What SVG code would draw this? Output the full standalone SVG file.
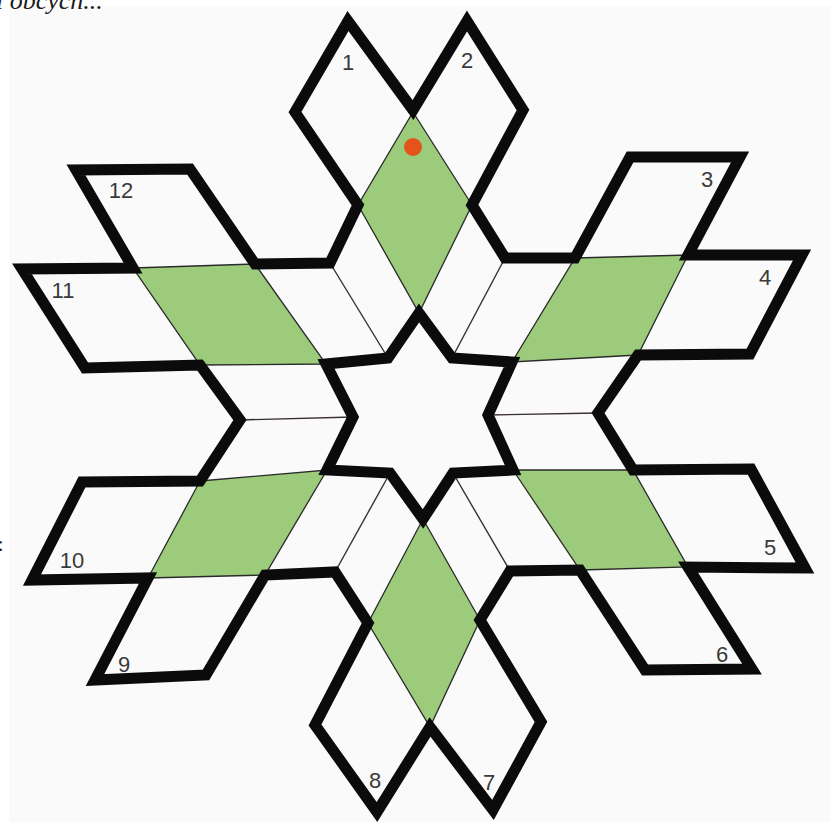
<svg xmlns="http://www.w3.org/2000/svg" width="830" height="822" viewBox="0 0 830 822">
<style>
.thick{fill:none;stroke:#0b0b0b;stroke-width:11;stroke-linejoin:miter;stroke-miterlimit:4}
.green{fill:#9bcb7b;stroke:#2a2a2a;stroke-width:1.3;stroke-linejoin:miter}
.fold{fill:none;stroke:#3a2f2f;stroke-width:1.4}
.lbl{font-family:"Liberation Sans",Arial,sans-serif;font-size:22px;fill:#3a3a3a;text-anchor:middle}
.cap{font-family:"Liberation Serif","Times New Roman",serif;font-style:italic;font-size:26px;fill:#1a1a1a}
</style>
<rect x="0" y="0" width="830" height="822" fill="#ffffff"/>
<rect x="9" y="6" width="821" height="816" fill="#fafafa"/>
<text class="cap" x="-4" y="9">i obcych...</text>
<text class="cap" x="-2.5" y="551" style="font-style:normal;font-size:22px">:</text>

<g id="greens">
<polygon id="g-top" class="green" points="413,112 472,205 419,313 358,205"/>
<polygon id="g-upper-right" class="green" points="575,258 688,255 638,355 512,362"/>
<polygon id="g-lower-right" class="green" points="513,470 633,470 688,567 580,570"/>
<polygon id="g-bottom" class="green" points="423,519 480,620 430,727 368,623"/>
<polygon id="g-lower-left" class="green" points="200,481 327,470 265,575 148,578"/>
<polygon id="g-upper-left" class="green" points="133,268 255,264 326,364 200,365"/>
</g>

<g id="connectors">
<line class="fold" x1="388" y1="358" x2="330" y2="263"/>
<line class="fold" x1="353" y1="417" x2="240" y2="420"/>
<line class="fold" x1="390" y1="473" x2="335" y2="572"/>
<line class="fold" x1="453" y1="473" x2="510" y2="571"/>
<line class="fold" x1="488" y1="415" x2="598" y2="413"/>
<line class="fold" x1="452" y1="358" x2="505" y2="258"/>
</g>

<g id="outline">
<polygon class="thick" points="348,21 413,110 467,21 523,110 472,205 505,258 575,258 630,157 740,157 688,255 802,255 750,354 638,355 598,413 633,470 751,469 805,568 688,567 752,669 645,670 580,570 510,571 480,620 541,722 493,810 430,727 377,812 315,725 368,623 335,572 265,575 206,675 95,680 148,578 32,580 82,482 200,481 240,420 200,365 85,368 22,269 133,268 76,170 190,169 255,264 330,263 358,205 295,112"/>
</g>

<g id="hexagram">
<polygon class="thick" points="419,313 452,358 512,362 488,415 513,470 453,473 423,519 390,473 327,470 353,417 326,364 388,358"/>
</g>

<g id="marker-dot">
<circle cx="413" cy="147" r="9" fill="#e4531c"/>
</g>

<g id="labels">
<text class="lbl" x="348" y="70">1</text>
<text class="lbl" x="467" y="68">2</text>
<text class="lbl" x="707" y="187">3</text>
<text class="lbl" x="765" y="285">4</text>
<text class="lbl" x="770" y="555">5</text>
<text class="lbl" x="722" y="662">6</text>
<text class="lbl" x="489" y="790">7</text>
<text class="lbl" x="375" y="788">8</text>
<text class="lbl" x="124" y="672">9</text>
<text class="lbl" x="72" y="568">10</text>
<text class="lbl" x="63" y="298">11</text>
<text class="lbl" x="121" y="198">12</text>
</g>
</svg>
